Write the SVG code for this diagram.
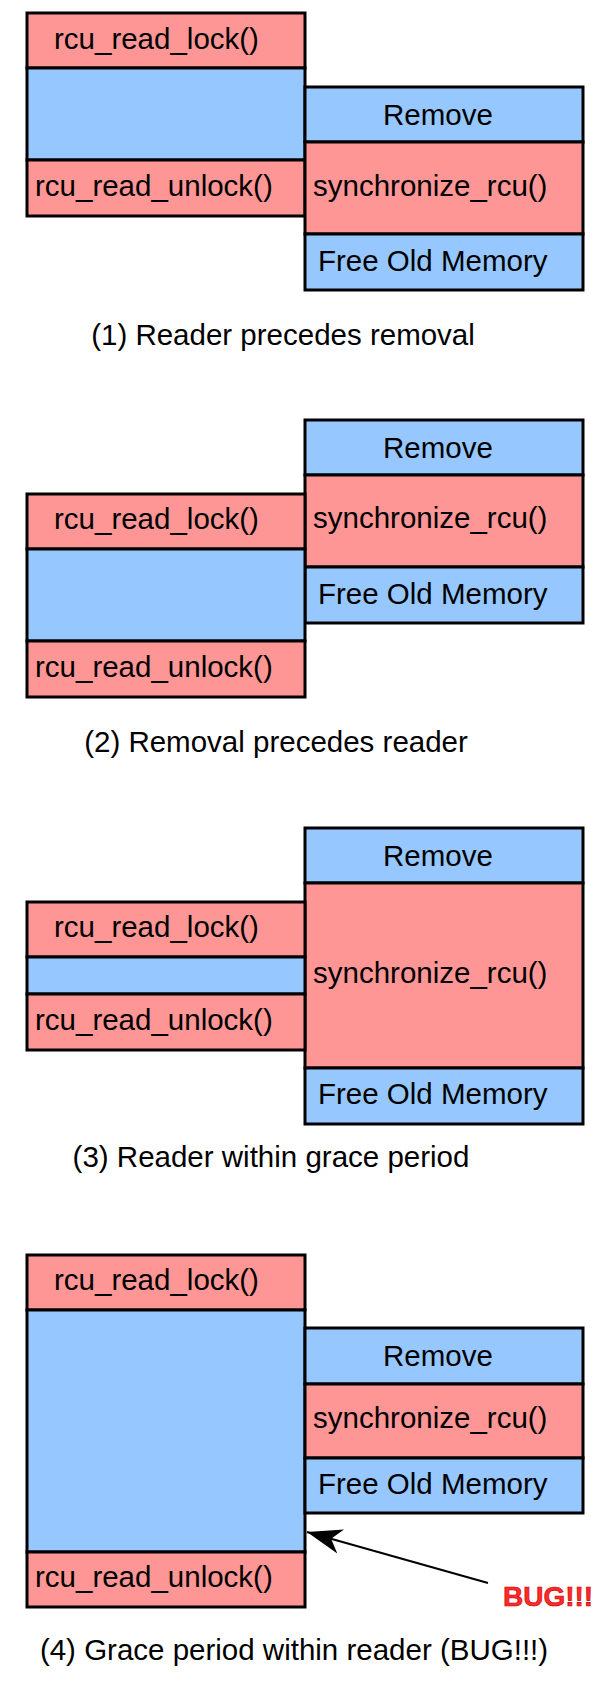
<svg xmlns="http://www.w3.org/2000/svg" width="608" height="1690" viewBox="0 0 608 1690">
<style>
.r{fill:#ff9696;stroke:#000;stroke-width:3}
.b{fill:#96c8ff;stroke:#000;stroke-width:3}
text{font-family:"Liberation Sans",Arial,sans-serif;font-size:29.5px;fill:#000}
.m{text-anchor:middle}
.bug{fill:#ff2a2a;stroke:#c00000;stroke-width:0.6;font-weight:bold;font-size:28px}
</style>
<defs>
<marker id="ah" markerUnits="userSpaceOnUse" markerWidth="40" markerHeight="30" viewBox="-30 -12 32 24" refX="0" refY="0" orient="auto">
<path d="M0,0 L-28,-10 L-20,0 L-28,10 z" fill="#000"/>
</marker>
</defs>
<rect width="608" height="1690" fill="#fff"/>
<g id="panel1">
<g id="p1-reader">
<rect class="r" x="27" y="13" width="278" height="55"/>
<rect class="b" x="27" y="68" width="278" height="92"/>
<rect class="r" x="27" y="160" width="278" height="56"/>
<text x="54" y="49">rcu_read_lock()</text>
<text x="35" y="196">rcu_read_unlock()</text>
</g>
<g id="p1-updater">
<rect class="b" x="305" y="87" width="278" height="55"/>
<rect class="r" x="305" y="142" width="278" height="92"/>
<rect class="b" x="305" y="234" width="278" height="56"/>
<text x="438" y="125" class="m">Remove</text>
<text x="313" y="196">synchronize_rcu()</text>
<text x="318" y="271">Free Old Memory</text>
</g>
<text x="283" y="345" class="m">(1) Reader precedes removal</text>
</g>
<g id="panel2">
<g id="p2-updater">
<rect class="b" x="305" y="420" width="278" height="55"/>
<rect class="r" x="305" y="475" width="278" height="92"/>
<rect class="b" x="305" y="567" width="278" height="56"/>
<text x="438" y="458" class="m">Remove</text>
<text x="313" y="528">synchronize_rcu()</text>
<text x="318" y="604">Free Old Memory</text>
</g>
<g id="p2-reader">
<rect class="r" x="27" y="494" width="278" height="55"/>
<rect class="b" x="27" y="549" width="278" height="92"/>
<rect class="r" x="27" y="641" width="278" height="56"/>
<text x="54" y="529">rcu_read_lock()</text>
<text x="35" y="677">rcu_read_unlock()</text>
</g>
<text x="276" y="752" class="m">(2) Removal precedes reader</text>
</g>
<g id="panel3">
<g id="p3-updater">
<rect class="b" x="305" y="828" width="278" height="55"/>
<rect class="r" x="305" y="883" width="278" height="185"/>
<rect class="b" x="305" y="1068" width="278" height="56"/>
<text x="438" y="866" class="m">Remove</text>
<text x="313" y="983">synchronize_rcu()</text>
<text x="318" y="1104">Free Old Memory</text>
</g>
<g id="p3-reader">
<rect class="r" x="27" y="902" width="278" height="55"/>
<rect class="b" x="27" y="957" width="278" height="37"/>
<rect class="r" x="27" y="994" width="278" height="56"/>
<text x="54" y="937">rcu_read_lock()</text>
<text x="35" y="1030">rcu_read_unlock()</text>
</g>
<text x="271" y="1167" class="m">(3) Reader within grace period</text>
</g>
<g id="panel4">
<g id="p4-reader">
<rect class="r" x="27" y="1255" width="278" height="55"/>
<rect class="b" x="27" y="1310" width="278" height="242"/>
<rect class="r" x="27" y="1552" width="278" height="55"/>
<text x="54" y="1290">rcu_read_lock()</text>
<text x="35" y="1587">rcu_read_unlock()</text>
</g>
<g id="p4-updater">
<rect class="b" x="305" y="1328" width="278" height="56"/>
<rect class="r" x="305" y="1384" width="278" height="74"/>
<rect class="b" x="305" y="1458" width="278" height="55"/>
<text x="438" y="1366" class="m">Remove</text>
<text x="313" y="1428">synchronize_rcu()</text>
<text x="318" y="1494">Free Old Memory</text>
</g>
<g id="bug-label">
<text x="503" y="1606" class="bug">BUG!!!</text>
</g>
<text x="294" y="1660" class="m">(4) Grace period within reader (BUG!!!)</text>
</g>
<g id="connectors">
<line x1="488" y1="1583" x2="307" y2="1532" stroke="#000" stroke-width="2" marker-end="url(#ah)"/>
</g>
</svg>
